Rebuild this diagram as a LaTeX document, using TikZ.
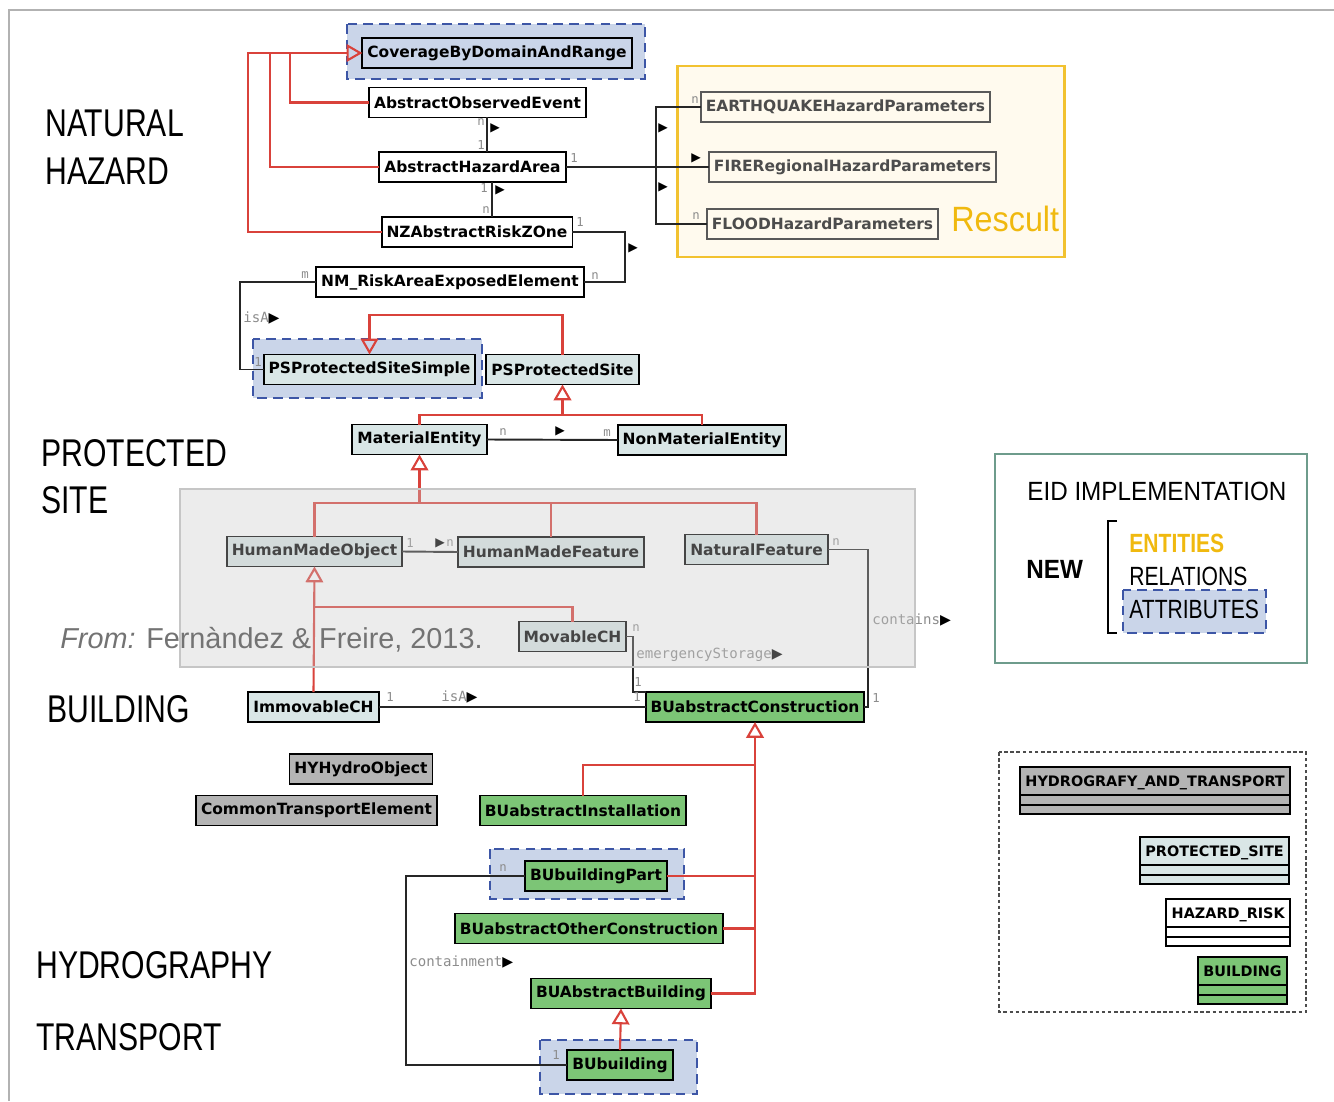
\documentclass[tikz,border=0pt]{standalone}
\usepackage{fontspec}
\usetikzlibrary{arrows.meta,shapes.multipart}
\newfontfamily\umlfont{DejaVu Sans}
\newfontfamily\monofont{DejaVu Sans Mono}
\newfontfamily\symfont{DejaVu Sans}
\newfontfamily\bigfont[FakeStretch=0.78]{Liberation Sans}
\newfontfamily\eidfont[FakeStretch=0.92]{Liberation Sans}
\newfontfamily\listfont[FakeStretch=0.8]{Liberation Sans}
\newfontfamily\srcfont{Liberation Sans}
\definecolor{psfill}{HTML}{D9E6E6}
\definecolor{bugreen}{HTML}{7CC576}
\definecolor{hygray}{HTML}{B4B4B4}
\definecolor{attfill}{HTML}{CAD5E9}
\definecolor{attblue}{HTML}{3D56A6}
\definecolor{genred}{HTML}{D9423B}
\definecolor{resyellow}{HTML}{F2C230}
\definecolor{resfill}{HTML}{FFFAEE}
\definecolor{restext}{HTML}{F0B90F}
\definecolor{eidframe}{HTML}{6E9C8C}
\definecolor{ovfill}{RGB}{200,200,200}

\begin{document}
\begin{tikzpicture}[x=0.02cm, y=-0.02cm,
    cls/.style={draw, line width=1.1pt, 
        font=\umlfont\bfseries\fontsize{8.8}{10}\selectfont,
        minimum height=0.6cm, inner xsep=1mm, inner ysep=0pt, 
        outer sep=0pt},
    hz/.style={cls, fill=white},
    ps/.style={cls, fill=psfill},
    bu/.style={cls, fill=bugreen},
    hy/.style={cls, fill=hygray},
    rs/.style={cls, fill=resfill, draw=black!65, text=black!70},
    gen/.style={draw=genred, line width=1.2pt, 
        -{Triangle[open, length=9pt, width=10pt]}},
    genl/.style={draw=genred, line width=1.2pt},
    assoc/.style={draw=black!85, line width=1.1pt},
    mult/.style={font=\monofont\fontsize{7}{7}\selectfont, 
        text=black!45, inner sep=0pt},
    role/.style={font=\monofont\fontsize{8}{8}\selectfont, 
        text=black!45, inner sep=0pt, anchor=west},
    navi/.style={font=\symfont\fontsize{7}{7}\selectfont, inner sep=0pt},
    att/.style={fill=attfill, draw=attblue, line width=1.4pt, 
        dash pattern=on 5.5pt off 3.5pt},
    zone/.style={font=\bigfont\fontsize{22}{22}\selectfont, 
        anchor=base west, inner sep=0pt},
    eid/.style={font=\eidfont\fontsize{15}{15}\selectfont, 
        anchor=base west, inner sep=0pt},
    item/.style={font=\listfont\fontsize{15}{15}\selectfont, 
        anchor=base west, inner sep=0pt},
    legcls/.style={rectangle split, rectangle split parts=3, 
        draw, line width=1.1pt,
        font=\umlfont\bfseries\fontsize{8.2}{9}\selectfont, 
        inner xsep=3pt, inner ysep=0.5pt, anchor=north east}
    ]
    \useasboundingbox (0,0) rectangle (1334,1101);
    \draw[gray!60, line width=1pt] (9,1101) -- (9,10) -- (1334,10);

    % areas
    \node[zone] (lnat) at (45,137) {NATURAL};
    \node[zone] (lhaz) at (45,185) {HAZARD};
    \node[zone] (lpro) at (41,466) {PROTECTED};
    \node[zone] (lsit) at (41,513) {SITE};
    \node[zone] (lbui) at (47,722) {BUILDING};
    \node[zone] (lhyd) at (36,978) {HYDROGRAPHY};
    \node[zone] (ltra) at (36,1050) {TRANSPORT};

    % backgrounds
    \draw[resyellow, fill=resfill, line width=1.7pt] (677,66) rectangle (1064,257);
    \node[font=\eidfont\fontsize{20}{20}\selectfont, text=restext, 
        anchor=base west, inner sep=0pt] (lres) at (951,232) {Rescult};
    \draw[att] (347,24) rectangle (645,79);
    \draw[att] (253,339) rectangle (482,398);
    \draw[att] (490,849) rectangle (684,899);
    \draw[att] (540,1040) rectangle (697,1094);

    % hazard
    \node[hz, fill=attfill] (cov) at (497,53) {CoverageByDomainAndRange};
    \node[hz] (aoe) at (477.5,102.5) {AbstractObservedEvent};
    \node[hz] (aha) at (472.5,167) {AbstractHazardArea};
    \node[hz] (nzr) at (477,232) {NZAbstractRiskZOne};
    \node[hz] (nmr) at (450,282) {NM\_RiskAreaExposedElement};
    \node[rs] (eqk) at (845.5,107) {EARTHQUAKEHazardParameters};
    \node[rs] (fire) at (852.5,167) {FIRERegionalHazardParameters};
    \node[rs] (flood) at (822.5,224) {FLOODHazardParameters};

    % protected site
    \node[ps] (pss) at (369.5,369.5) {PSProtectedSiteSimple};
    \node[ps] (psite) at (562.5,369.5) {PSProtectedSite};
    \node[ps] (mat) at (419.5,439.5) {MaterialEntity};
    \node[ps] (nonmat) at (702,440) {NonMaterialEntity};
    \node[ps] (hmo) at (314.5,551.5) {HumanMadeObject};
    \node[ps] (hmf) at (551,552) {HumanMadeFeature};
    \node[ps] (natf) at (756.5,549.5) {NaturalFeature};
    \node[ps] (mov) at (572.5,636.5) {MovableCH};
    \node[ps] (imm) at (313.5,707) {ImmovableCH};

    % building, hydrography, transport
    \node[bu] (buac) at (755,707) {BUabstractConstruction};
    \node[bu] (buinst) at (583,810.5) {BUabstractInstallation};
    \node[bu] (bupart) at (596,876) {BUbuildingPart};
    \node[bu] (buoth) at (589,928.5) {BUabstractOtherConstruction};
    \node[bu] (buab) at (621,993.5) {BUAbstractBuilding};
    \node[bu] (bubld) at (620,1065) {BUbuilding};
    \node[hy] (hyo) at (361,769) {HYHydroObject};
    \node[hy] (cte) at (316.5,810.5) {CommonTransportElement};

    % generalizations
    \coordinate (jcov) at (248,53);
    \coordinate (jaha) at (270,53);
    \coordinate (jaoe) at (290,53);
    \draw[gen] (nzr.west) -| (jcov) -- (cov.west);
    \draw[genl] (aha.west) -| (jaha);
    \draw[genl] (aoe.west) -| (jaoe);
    \draw[gen] (psite.north) |- (pss.north |- 0,315) -- (pss.north);
    \coordinate (jmat) at (psite.south |- 0,415);
    \draw[genl] (mat.north) |- (jmat);
    \draw[genl] (nonmat.north) |- (jmat);
    \draw[gen] (jmat) -- (psite.south);
    \coordinate (jhm) at (mat.south |- 0,503);
    \draw[genl] (hmo.north) |- (jhm);
    \draw[genl] (hmf.north) |- (jhm);
    \draw[genl] (natf.north) |- (jhm);
    \draw[gen] (jhm) -- (mat.south);
    \coordinate (jmov) at (hmo.south |- 0,607);
    \draw[gen] (imm.north) -- (hmo.south);
    \draw[genl] (mov.north) |- (jmov);
    \coordinate (jbu) at (buac.south |- 0,765);
    \draw[gen] (jbu) -- (buac.south);
    \draw[genl] (buinst.north) |- (jbu);
    \draw[genl] (bupart.east) -| (jbu);
    \draw[genl] (buoth.east) -| (jbu);
    \draw[genl] (buab.east) -| (jbu);
    \draw[gen] (bubld.north) -- (buab.south);

    % associations
    \draw[assoc] (aoe.south -| 487,0) -- (aha.north -| 487,0);
    \draw[assoc] (aha.south -| 492,0) -- (nzr.north -| 492,0);
    \coordinate (jrs) at (656,167);
    \draw[assoc] (aha.east) -- (fire.west);
    \draw[assoc] (eqk.west) -| (jrs) |- (flood.west);
    \coordinate (jnz) at (625,257);
    \draw[assoc] (nzr.east) -| (jnz) |- (nmr.east);
    \coordinate (jnm) at (240,320);
    \draw[assoc] (nmr.west) -| (jnm) |- (pss.west);
    \draw[assoc] (mat.east) -- (nonmat.west);
    \draw[assoc] (hmo.east) -- (hmf.west);
    \coordinate (jnat) at (868,650);
    \draw[assoc] (natf.east) -| (jnat) |- (buac.east);
    \coordinate (jmv) at (633,660);
    \draw[assoc] (mov.east) -| (jmv) |- (buac.north west);
    \draw[assoc] (imm.east) -- (buac.west);
    \coordinate (jbp) at (406,970);
    \draw[assoc] (bupart.west) -| (jbp) |- (bubld.west);

    % multiplicities and directions
    \node[mult] (m1) at (481,122) {n};
    \node[mult] (m2) at (481,145) {1};
    \node[mult] (m3) at (484,188) {1};
    \node[mult] (m4) at (486,210) {n};
    \node[mult] (m5) at (574,158) {1};
    \node[mult] (m6) at (695,100) {n};
    \node[mult] (m7) at (696,216) {n};
    \node[mult] (m8) at (580,222) {1};
    \node[mult] (m9) at (595,276) {n};
    \node[mult] (m10) at (305,275) {m};
    \node[mult] (m11) at (258,362) {1};
    \node[mult] (m12) at (503,432) {n};
    \node[mult] (m13) at (607,433) {m};
    \node[mult] (m14) at (410,543) {1};
    \node[mult] (m15) at (450,543) {n};
    \node[mult] (m16) at (836,542) {n};
    \node[mult] (m17) at (636,628) {n};
    \node[mult] (m18) at (638,682) {1};
    \node[mult] (m19) at (390,697) {1};
    \node[mult] (m20) at (637,697) {1};
    \node[mult] (m21) at (876,698) {1};
    \node[mult] (m22) at (503,868) {n};
    \node[mult] (m23) at (556,1055) {1};
    \node[navi] (d1) at (495,128) {▶};
    \node[navi] (d2) at (500,190) {▶};
    \node[navi] (d3) at (663,128) {▶};
    \node[navi] (d4) at (663,187) {▶};
    \node[navi] (d5) at (696,158) {▶};
    \node[navi] (d6) at (633,248) {▶};
    \node[navi] (d7) at (560,431) {▶};
    \node[navi] (d8) at (440,543) {▶};
    \node[role] (r1) at (243,318) {isA\textcolor{black}{\symfont▶}};
    \node[role] (r2) at (441,697) {isA\textcolor{black}{\symfont▶}};
    \node[role] (r3) at (636,655) {emergencyStorage\textcolor{black}{\symfont▶}};
    \node[role] (r4) at (872,620) {contains\textcolor{black}{\symfont▶}};
    \node[role] (r5) at (409,962) {containment\textcolor{black}{\symfont▶}};

    % source overlay
    \draw[draw=gray!45, fill=ovfill, fill opacity=0.35, line width=1pt] 
        (180,489) rectangle (915,667);
    \node[font=\srcfont\fontsize{16.4}{16.4}\selectfont, text=black!55, 
        anchor=base west, inner sep=0pt] (lsrc) at (60,648) 
        {\textit{From:} Fernàndez \& Freire, 2013.};

    % EID box
    \draw[eidframe, line width=1.3pt] (995,454) rectangle (1307,663);
    \draw[att] (1123,590) rectangle (1266,633);
    \node[eid] (leid) at (1027,500) {EID IMPLEMENTATION};
    \node[eid, font=\eidfont\bfseries\fontsize{15}{15}\selectfont] (lnew) at (1026,578) {NEW};
    \draw[line width=0.8pt] (1117,521) -- (1108,521) -- (1108,633) -- (1117,633);
    \node[item, font=\listfont\bfseries\fontsize{15}{15}\selectfont, text=restext] (lent) at (1129,552) {ENTITIES};
    \node[item] (lrel) at (1129,585) {RELATIONS};
    \node[item] (latt) at (1129,618) {ATTRIBUTES};

    % legend
    \draw[black!70, line width=0.8pt, dash pattern=on 2pt off 1.5pt] 
        (999,752) rectangle (1306,1012);
    \node[legcls, fill=hygray] (lghy) at (1291,766) 
        {\rule[-3.9pt]{0pt}{13.7pt}HYDROGRAFY\_AND\_TRANSPORT\nodepart{two}\rule{0pt}{3.5pt}\nodepart{three}\rule{0pt}{3.5pt}};
    \node[legcls, fill=psfill] (lgps) at (1290,836) 
        {\rule[-3.9pt]{0pt}{13.7pt}PROTECTED\_SITE\nodepart{two}\rule{0pt}{3.5pt}\nodepart{three}\rule{0pt}{3.5pt}};
    \node[legcls, fill=white] (lghz) at (1291,898) 
        {\rule[-3.9pt]{0pt}{13.7pt}HAZARD\_RISK\nodepart{two}\rule{0pt}{3.5pt}\nodepart{three}\rule{0pt}{3.5pt}};
    \node[legcls, fill=bugreen] (lgbu) at (1288,956) 
        {\rule[-3.9pt]{0pt}{13.7pt}BUILDING\nodepart{two}\rule{0pt}{3.5pt}\nodepart{three}\rule{0pt}{3.5pt}};
\end{tikzpicture}
\end{document}
